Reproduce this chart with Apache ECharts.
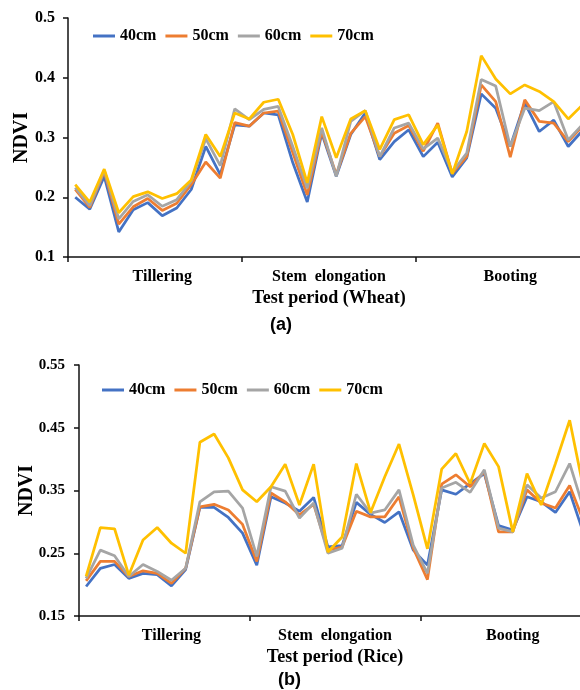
<!DOCTYPE html>
<html>
<head>
<meta charset="utf-8">
<script src="https://cdn.jsdelivr.net/npm/echarts@6/dist/echarts.min.js"></script>
<style>
html,body{margin:0;padding:0;background:#fff;}
#c{width:580px;height:690px;}
</style>
</head>
<body>
<div id="c"></div>
<script>
// ---- data ----
const seriesNames = ['40cm', '50cm', '60cm', '70cm'];
const periods = ['Tillering', 'Stem  elongation', 'Booting'];
const wheatTicks = [0.1, 0.2, 0.3, 0.4, 0.5];
const riceTicks = [0.15, 0.25, 0.35, 0.45, 0.55];

const wheat40 = [0.200,0.180,0.235,0.142,0.179,0.191,0.169,0.182,0.213,0.285,0.238,0.321,
                 0.319,0.341,0.338,0.258,0.192,0.307,0.235,0.305,0.341,0.263,0.293,0.313,
                 0.268,0.292,0.234,0.266,0.373,0.349,0.285,0.358,0.310,0.329,0.285,0.312];
const wheat50 = [0.213,0.183,0.243,0.155,0.184,0.198,0.178,0.190,0.221,0.259,0.232,0.325,
                 0.319,0.341,0.344,0.275,0.204,0.310,0.238,0.307,0.335,0.268,0.307,0.320,
                 0.277,0.324,0.240,0.268,0.388,0.360,0.267,0.363,0.327,0.324,0.293,0.320];
const wheat60 = [0.216,0.186,0.245,0.164,0.193,0.204,0.185,0.196,0.227,0.298,0.253,0.348,
                 0.330,0.347,0.352,0.285,0.215,0.316,0.235,0.327,0.345,0.268,0.316,0.324,
                 0.281,0.299,0.242,0.274,0.397,0.386,0.285,0.349,0.345,0.360,0.296,0.322];
const wheat70 = [0.221,0.192,0.247,0.174,0.201,0.209,0.198,0.206,0.229,0.305,0.268,0.341,
                 0.331,0.359,0.364,0.305,0.224,0.335,0.266,0.331,0.345,0.280,0.330,0.338,
                 0.288,0.321,0.239,0.310,0.437,0.398,0.373,0.388,0.377,0.360,0.331,0.355];

const rice40 = [0.197,0.226,0.232,0.210,0.218,0.216,0.198,0.224,0.323,0.323,0.307,0.282,
                0.231,0.340,0.330,0.317,0.339,0.260,0.262,0.331,0.312,0.299,0.316,0.255,
                0.231,0.351,0.344,0.361,0.377,0.294,0.287,0.340,0.332,0.315,0.348,0.280];
const rice50 = [0.206,0.237,0.237,0.213,0.222,0.218,0.202,0.226,0.324,0.328,0.319,0.296,
                0.237,0.346,0.332,0.311,0.328,0.255,0.260,0.317,0.308,0.308,0.340,0.258,
                0.208,0.360,0.375,0.356,0.380,0.284,0.284,0.351,0.330,0.322,0.358,0.300];
const rice60 = [0.210,0.255,0.246,0.213,0.232,0.221,0.207,0.226,0.332,0.348,0.349,0.322,
                0.245,0.356,0.349,0.306,0.330,0.250,0.258,0.344,0.314,0.319,0.351,0.263,
                0.218,0.354,0.363,0.347,0.383,0.290,0.284,0.359,0.338,0.348,0.393,0.320];
const rice70 = [0.213,0.291,0.289,0.215,0.271,0.291,0.266,0.250,0.427,0.440,0.402,0.351,
                0.332,0.356,0.392,0.327,0.392,0.252,0.276,0.393,0.315,0.372,0.424,0.343,
                0.257,0.384,0.409,0.361,0.425,0.388,0.284,0.377,0.327,0.393,0.462,0.350];

const colors = ['#4472C4', '#ED7D31', '#A5A5A5', '#FFC000'];

// ---- chart ----
const serif = '"Liberation Serif", "Times New Roman", serif';
const chart = echarts.init(document.getElementById('c'), null, {renderer: 'canvas'});

function pts(arr) { return arr.map((v, i) => [i + 0.5, v]); }
const labelAt = {6.5: periods[0], 18: periods[1], 30.5: periods[2]};

function xAxes(gridIndex, name) {
  return [
    {
      type: 'value', gridIndex: gridIndex, position: 'bottom', min: 0, max: 36, interval: 12,
      axisLine: {show: true, onZero: false, lineStyle: {color: '#111', width: 1.5}},
      axisTick: {show: true, length: 5, lineStyle: {color: '#111', width: 1.5}},
      axisLabel: {show: false},
      splitLine: {show: false},
      name: name, nameLocation: 'middle', nameGap: 32,
      nameTextStyle: {fontFamily: serif, fontWeight: 'bold', fontSize: 18, color: '#000'}
    },
    {
      type: 'value', gridIndex: gridIndex, position: 'bottom', min: 0, max: 36, interval: 0.5,
      axisLine: {show: false, onZero: false}, axisTick: {show: false}, splitLine: {show: false},
      axisLabel: {
        show: true, margin: 12, fontFamily: serif, fontWeight: 'bold', fontSize: 16, color: '#000',
        formatter: v => labelAt[v] || ''
      }
    }
  ];
}

function yAxis(gridIndex, ticks, digits, fs, margin, gap) {
  return {
    type: 'value', gridIndex: gridIndex, position: 'left',
    min: ticks[0], max: ticks[ticks.length - 1], interval: +(ticks[1] - ticks[0]).toFixed(4),
    axisLine: {show: true, onZero: false, lineStyle: {color: '#111', width: 1.5}},
    axisTick: {show: true, length: 5, lineStyle: {color: '#111', width: 1.5}},
    splitLine: {show: false},
    axisLabel: {margin: margin, fontFamily: serif, fontWeight: 'bold', fontSize: fs, color: '#000',
                formatter: v => v.toFixed(digits)},
    name: 'NDVI', nameLocation: 'middle', nameRotate: 90, nameGap: gap, nameMoveOverlap: false,
    nameTextStyle: {fontFamily: serif, fontWeight: 'bold', fontSize: 20, color: '#000'}
  };
}

function mkSeries(arrs, xi, yi) {
  return arrs.map((a, k) => ({
    name: seriesNames[k], type: 'line', xAxisIndex: xi, yAxisIndex: yi,
    data: pts(a), symbol: 'none', smooth: false, animation: false, clip: false,
    lineStyle: {color: colors[k], width: 2.75}, itemStyle: {color: colors[k]}
  }));
}

const legendBase = {
  data: seriesNames, icon: 'rect', itemWidth: 22, itemHeight: 3, itemGap: 9,
  textStyle: {fontFamily: serif, fontWeight: 'bold', fontSize: 16, color: '#000'}
};

chart.setOption({
  animation: false,
  color: colors,
  grid: [
    {left: 68, top: 18, width: 522, height: 239, outerBoundsMode: 'none', containLabel: false},
    {left: 79, top: 365, width: 512, height: 251, outerBoundsMode: 'none', containLabel: false}
  ],
  legend: [
    Object.assign({}, legendBase, {left: 88, top: 23}),
    Object.assign({}, legendBase, {left: 97, top: 377})
  ],
  xAxis: xAxes(0, 'Test period (Wheat)').concat(xAxes(1, 'Test period (Rice)')),
  yAxis: [yAxis(0, wheatTicks, 1, 16, 13, 36), yAxis(1, riceTicks, 2, 15, 14, 42)],
  series: mkSeries([wheat40, wheat50, wheat60, wheat70], 0, 0)
          .concat(mkSeries([rice40, rice50, rice60, rice70], 2, 1)),
  graphic: [
    {type: 'text', left: 270, top: 316, style: {text: '(a)', font: 'bold 18px "Liberation Sans", Arial, sans-serif', fill: '#000'}},
    {type: 'text', left: 278, top: 671, style: {text: '(b)', font: 'bold 18px "Liberation Sans", Arial, sans-serif', fill: '#000'}}
  ]
});
</script>
</body>
</html>
